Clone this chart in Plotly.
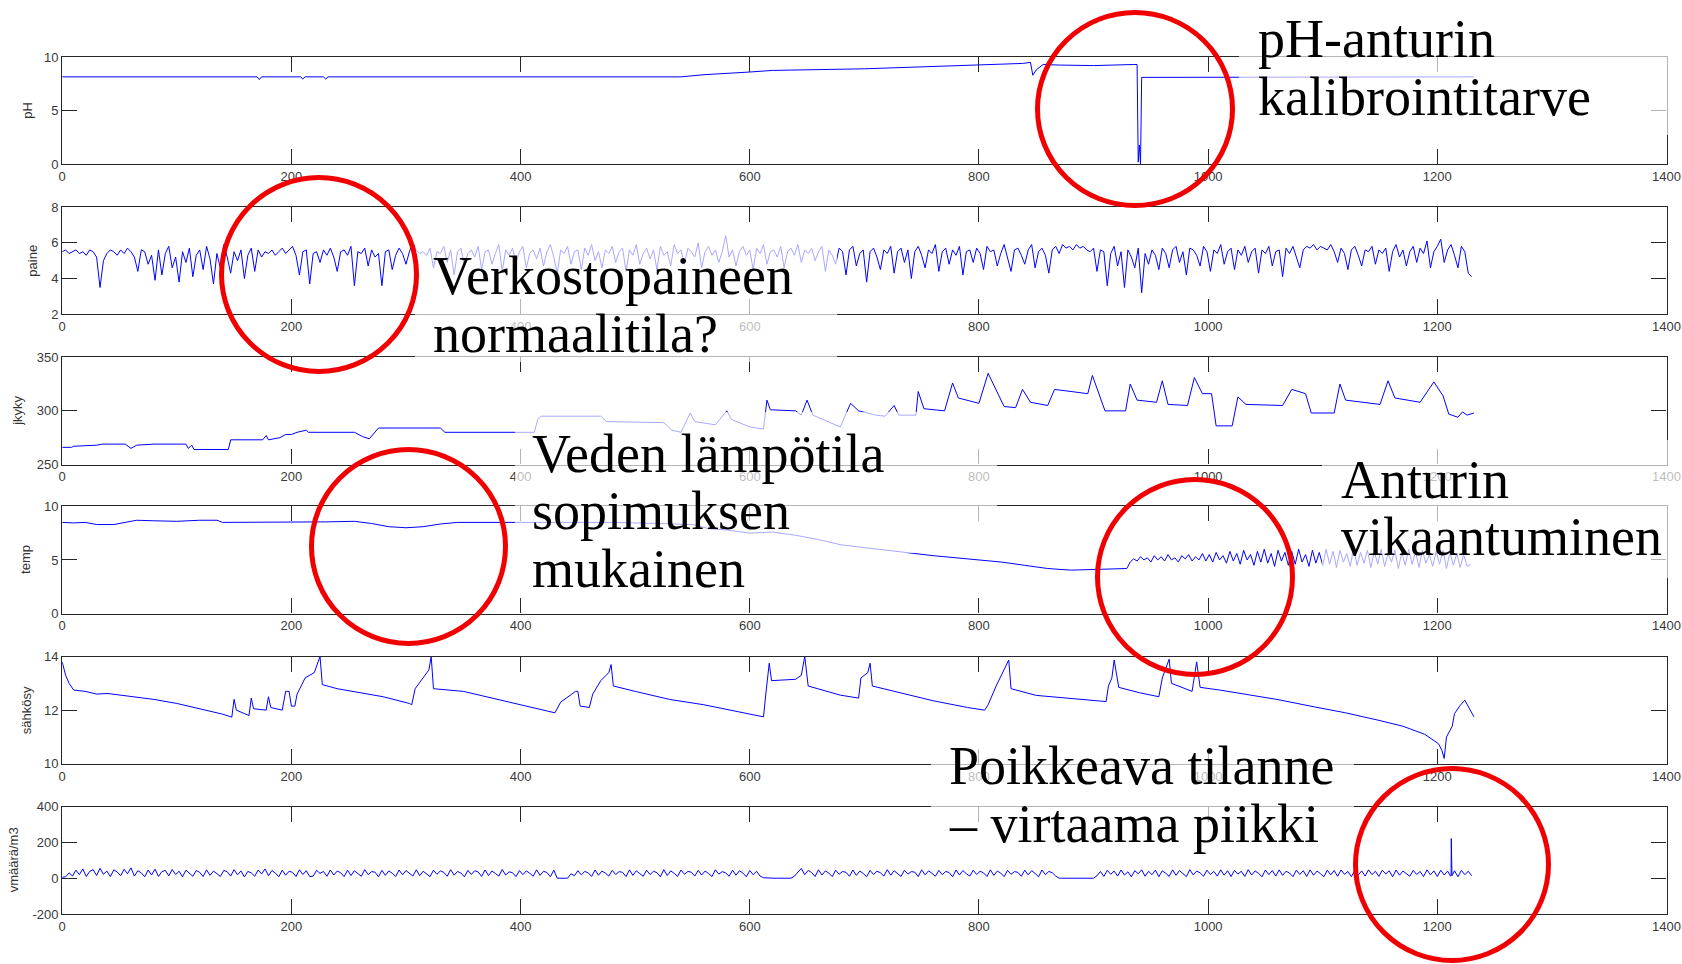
import numpy as np
import plotly.graph_objects as go

W, H = 1682, 964

# ---------------- data ----------------
X_TICKS = [0, 200, 400, 600, 800, 1000, 1200, 1400]

PH_X = [0, 170, 172, 174, 208, 210, 212, 228, 230, 232, 540, 560, 600, 620, 700, 780, 838, 845,
        847, 850, 856, 870, 900, 935, 938, 939, 940, 941, 942, 1232]
PH_Y = [8.15, 8.15, 7.9, 8.15, 8.15, 7.95, 8.15, 8.15, 7.95, 8.15, 8.15, 8.35, 8.6, 8.75, 8.9, 9.2, 9.4, 9.5,
        8.3, 8.8, 9.3, 9.25, 9.2, 9.3, 9.3, 0.2, 1.8, 0.0, 8.1, 8.15]

PAINE_STEP = 3
PAINE_Y = [
    5.5, 5.6, 5.4, 5.5, 5.6, 5.4, 5.5, 5.3, 5.6, 5.5, 5.2, 3.5, 5.0, 5.4, 5.6, 5.5, 5.3, 5.6, 5.4, 5.7,
    5.5, 5.2, 4.4, 5.6, 5.5, 4.8, 5.3, 3.9, 5.6, 4.2, 5.4, 5.8, 4.6, 5.2, 3.8, 5.5, 4.9, 5.7, 4.1, 5.3,
    5.6, 4.5, 5.8, 5.1, 3.7, 5.4, 4.6, 5.9, 5.2, 4.3, 5.5, 5.0, 5.6, 4.0, 5.3, 5.7, 4.4, 5.6, 5.2, 5.5,
    5.4, 5.6, 5.3, 5.5, 5.7, 5.4, 5.6, 5.8, 5.3, 4.2, 5.5, 5.6, 3.7, 5.4, 5.5, 4.9, 5.6, 5.3, 5.7, 5.2,
    4.4, 5.5, 5.6, 5.3, 5.8, 3.6, 5.5, 5.4, 5.7, 4.7, 5.6, 5.2, 5.4, 3.6, 5.5, 5.6, 4.5, 5.3, 5.7, 5.4,
    4.8, 5.5, 6.0, 5.6, 5.4, 5.5, 5.3, 5.7, 4.6, 5.5, 5.4, 5.8, 4.9, 5.6, 4.2, 5.5, 5.7, 4.7, 5.4, 5.6,
    5.2, 5.8, 4.5, 5.5, 5.6, 4.8, 5.4, 5.9, 4.4, 5.6, 5.3, 5.7, 4.9, 5.5, 5.8, 4.6, 5.4, 5.6, 5.1, 5.7,
    4.7, 5.5, 5.9, 5.2, 4.3, 5.6, 5.4, 5.8, 4.8, 5.5, 5.6, 4.5, 5.7, 5.3, 5.9, 5.0, 5.5, 4.6, 5.6, 5.4,
    5.8, 4.9, 5.5, 5.7, 4.4, 5.6, 5.3, 5.9, 4.8, 5.4, 5.7, 5.1, 5.6, 4.5, 5.8, 5.3, 5.5, 4.7, 5.9, 5.4,
    5.6, 4.8, 5.7, 5.5, 5.2, 6.0, 4.6, 5.5, 5.8, 5.3, 5.6, 4.9, 5.5, 6.4, 5.2, 5.6, 4.7, 5.5, 5.8, 5.3,
    5.6, 4.5, 5.7, 5.4, 5.9, 4.8, 5.5, 5.6, 5.2, 5.8, 4.6, 5.5, 5.7, 5.3, 5.9, 4.9, 5.6, 5.4, 5.7, 5.0,
    5.5, 5.8, 4.4, 5.6, 5.3, 4.8, 5.7, 5.5, 4.2, 5.6, 5.8, 4.7, 5.4, 5.6, 3.8, 5.5, 5.7, 5.2, 4.5, 5.6,
    5.4, 5.8, 4.3, 5.5, 5.7, 4.9, 5.6, 4.0, 5.5, 5.8, 5.3, 4.6, 5.6, 5.4, 5.9, 4.4, 5.5, 5.7, 4.8, 5.6,
    5.3, 5.8, 4.2, 5.5, 5.6, 4.9, 5.7, 5.4, 4.5, 5.8, 5.5, 5.6, 4.7, 5.4, 5.9, 5.2, 4.4, 5.6, 5.7, 5.3,
    4.8, 5.6, 5.9, 4.6, 5.5, 5.7, 5.3, 4.3, 5.6, 5.8, 5.4, 5.9, 5.7, 5.8, 5.6, 5.9, 5.7, 5.8, 5.6, 5.5,
    5.7, 4.4, 5.6, 5.5, 3.6, 5.4, 5.8, 4.7, 5.5, 3.5, 5.6, 5.2, 4.6, 5.7, 3.2, 5.4, 4.8, 5.6, 5.3, 4.5,
    5.7, 5.4, 4.6, 5.6, 5.8, 4.9, 5.5, 4.2, 5.7, 5.6, 5.3, 4.7, 5.8, 5.5, 4.4, 5.6, 5.4, 5.9, 4.8, 5.5,
    5.7, 4.5, 5.6, 5.3, 5.8, 4.9, 5.5, 5.7, 4.3, 5.6, 5.4, 5.8, 4.7, 5.5, 5.6, 4.1, 5.7, 5.4, 5.8, 5.2,
    4.6, 5.6, 5.8, 5.7, 5.9, 5.6, 5.8, 5.7, 5.6, 5.9, 5.5, 4.9, 5.7, 5.4, 4.5, 5.6, 5.8, 5.3, 4.7, 5.6,
    5.5, 5.8, 4.8, 5.6, 5.4, 5.7, 4.4, 5.5, 5.9, 5.2, 5.6, 4.7, 5.5, 5.8, 4.9, 5.7, 5.4, 6.1, 4.6, 5.5,
    5.8, 6.2, 4.9, 5.6, 5.9, 5.3, 4.6, 5.8, 5.5, 4.3, 4.1,
]

JKYKY_X = [0, 8, 10, 30, 35, 55, 60, 65, 80, 108, 110, 113, 115, 145, 147, 175, 178, 180, 190, 195,
           200, 205, 213, 215, 255, 262, 268, 272, 276, 330, 334, 400, 412, 415, 418, 470, 475, 525,
           532, 540, 548, 552, 570, 580, 584, 600, 612, 615, 618, 640, 645, 650, 655, 679, 688, 695,
           710, 718, 726, 730, 745, 747, 752, 770, 777, 782, 800, 808, 815, 822, 832, 838, 845, 860,
           866, 895, 899, 905, 910, 928, 932, 938, 955, 960, 965, 982, 988, 995, 1003, 1007, 1021,
           1026, 1033, 1065, 1073, 1085, 1090, 1110, 1115, 1120, 1150, 1157, 1163, 1185, 1197, 1205,
           1210, 1218, 1222, 1226, 1232]
JKYKY_Y = [266, 266, 267, 268, 269, 269, 265, 268, 269, 269, 265, 268, 264, 264, 273, 273, 277, 273, 275, 278,
           278, 280, 282, 280, 280, 276, 274, 279, 284, 284, 280, 280, 280, 292, 295, 295, 290, 289,
           282, 280, 298, 290, 287, 300, 292, 285, 283, 310, 301, 300, 296, 310, 296, 285, 307, 300,
           296, 295, 305, 296, 296, 318, 302, 300, 326, 312, 307, 335, 320, 304, 303, 320, 308, 305,
           320, 316, 333, 315, 300, 300, 325, 310, 308, 328, 306, 305, 331, 316, 316, 286, 286,
           313, 306, 305, 320, 316, 298, 298, 325, 310, 306, 328, 312, 308, 327, 314,
           297, 294, 299, 296, 298]

TEMP_HEAD_X = [0, 10, 20, 30, 45, 55, 65, 80, 100, 120, 135, 140, 160, 200, 230, 255, 270, 285, 300,
               315, 330, 345, 400, 440, 480, 520, 550, 565, 580, 600, 620, 640, 660, 680, 700, 720,
               740, 760, 780, 800, 820, 840, 860, 880, 900, 915, 929]
TEMP_HEAD_Y = [8.5, 8.45, 8.5, 8.3, 8.3, 8.5, 8.7, 8.65, 8.6, 8.7, 8.7, 8.5, 8.5, 8.5, 8.55, 8.6, 8.4, 8.1, 8.0,
               8.1, 8.35, 8.5, 8.5, 8.45, 8.5, 8.4, 8.3, 7.9, 7.8, 7.5, 7.6, 7.3, 6.9, 6.4, 6.15, 5.85,
               5.6, 5.4, 5.2, 5.0, 4.8, 4.5, 4.2, 4.05, 4.1, 4.2, 4.2]
TEMP_TAIL_START = 932
TEMP_TAIL_STEP = 3
TEMP_TAIL_Y = [
    4.8, 5.1, 4.9, 5.3, 5.0, 5.2, 4.8, 5.4, 5.0, 5.3, 4.9, 5.5, 5.0, 5.2, 4.8, 5.4, 5.1, 5.5, 4.9, 5.3, 5.0, 5.6, 4.9,
    5.5, 4.8, 5.7, 5.0, 5.4, 4.7, 5.8, 4.9, 5.6, 4.6, 5.9, 5.0, 5.5, 4.5, 5.8, 4.8, 6.0, 4.7, 5.6, 4.4, 5.9, 4.9,
    5.7, 4.5, 5.8, 4.6, 6.0, 4.8, 5.5, 4.4, 5.9, 4.7, 5.7,
    4.5, 6.0, 4.6, 5.8, 4.3, 5.9, 4.8, 5.6, 4.4, 6.1, 4.5, 5.7, 4.7, 5.9, 4.3, 5.8, 4.6, 6.0, 4.4, 5.6, 4.8, 5.9,
    4.2, 5.7, 4.5, 6.0, 4.6, 5.8, 4.3, 5.9, 4.7, 5.5, 4.4, 5.8, 4.6, 5.9, 4.2, 5.7, 4.5, 5.6, 4.3, 5.5, 4.4, 4.6,
]

SAHKO_X = [0, 3, 6, 10, 20, 30, 40, 60, 80, 100, 120, 140, 148, 150, 152, 163, 165, 167, 178, 180, 182, 192,
           195, 198, 200, 203, 205, 212, 220, 225, 227, 240, 260, 280, 303, 305, 308, 315, 320, 322, 324,
           350, 380, 410, 430, 435, 440, 448, 450, 452, 460, 463, 470, 477, 479, 481, 500, 530, 560, 590,
           612, 614, 617, 619, 640, 645, 648, 651, 679, 695, 697, 703, 705, 707, 730, 760, 790, 805, 808,
           815, 826, 828, 850, 880, 911, 913, 916, 918, 922, 940, 957, 960, 966, 968, 980, 986, 990, 993,
           1010, 1036, 1060, 1093, 1120, 1149, 1170, 1189, 1201, 1204, 1206, 1208, 1213, 1215, 1220,
           1224, 1226, 1229, 1232]
SAHKO_Y = [13.8, 13.3, 13.0, 12.75, 12.7, 12.6, 12.62, 12.5, 12.4, 12.25, 12.05, 11.85, 11.74, 12.4, 12.0, 11.8,
           12.45, 12.05, 12.0, 12.5, 12.1, 12.0, 12.7, 12.7, 12.15, 12.15, 12.6, 13.2, 13.4, 14.0, 12.95, 12.8,
           12.65, 12.5, 12.25, 12.2, 12.8, 13.2, 13.5, 14.0, 12.8, 12.7, 12.4, 12.1, 11.9, 12.3, 12.45, 12.7,
           12.7, 12.15, 12.1, 12.6, 13.1, 13.4, 13.7, 12.9, 12.7, 12.4, 12.2, 11.95, 11.75, 12.6, 13.75,
           13.1, 13.15, 13.3, 14.0, 12.9, 12.56, 12.45, 13.2, 13.4, 13.75, 12.9, 12.65, 12.35, 12.1, 12.0,
           12.2, 12.9, 13.87, 12.8, 12.55, 12.45, 12.32, 12.9, 13.2, 13.87, 12.85, 12.65, 12.5, 13.2, 13.9,
           13.0, 12.8, 12.7, 13.8, 12.85, 12.75, 12.56, 12.4, 12.12, 11.9, 11.62, 11.4, 11.1, 10.75, 10.5,
           10.2, 11.0, 11.4, 11.87, 12.18, 12.37, 12.2, 12.0, 11.75]

VM_STEP = 3
VM_Y = [
    5, 8, 30, 12, 45, 20, 52, 10, 38, 48, 15, 55, 22, 40, 9, 47, 35, 14, 50, 25,
    58, 12, 42, 30, 8, 46, 18, 51, 10, 37, 44, 13, 49, 21, 39, 8, 45, 28, 11, 43,
    33, 9, 47, 16, 40, 26, 10, 44, 36, 12, 48, 19, 41, 7, 38, 30, 11, 46, 24, 52,
    14, 43, 29, 8, 45, 17, 39, 33, 10, 47, 21, 42, 9, 12, 44, 27, 38, 11, 46, 18,
    40, 31, 9, 45, 15, 42, 25, 11, 48, 20, 37, 34, 8, 44, 16, 41, 28, 10, 46, 19,
    43, 30, 12, 47, 14, 39, 26, 9, 45, 22, 41, 33, 11, 48, 17, 38, 29, 8, 44, 21,
    42, 35, 10, 46, 15, 40, 27, 12, 49, 18, 36, 31, 9, 43, 20, 41, 28, 11, 47, 16,
    39, 32, 8, 45, 0, 0, 0, 0, 25, 14, 42, 19, 38, 30, 10, 46, 17, 40, 29, 12,
    44, 21, 37, 33, 9, 47, 16, 42, 26, 11, 45, 20, 39, 31, 8, 48, 15, 41, 28, 10,
    46, 22, 38, 34, 12, 44, 18, 40, 27, 9, 47, 23, 37, 30, 11, 45, 17, 42, 29, 8,
    43, 20, 39, 12, 3, 1, 0, 0, 0, 0, 0, 0, 0, 12, 35, 55, 20, 44, 32, 10,
    47, 18, 41, 29, 9, 45, 22, 38, 33, 11, 46, 16, 40, 27, 8, 44, 21, 39, 31, 12,
    48, 17, 42, 26, 10, 45, 23, 37, 34, 9, 47, 19, 41, 28, 11, 44, 20, 38, 32, 8,
    46, 18, 43, 25, 12, 45, 21, 39, 30, 10, 47, 16, 40, 29, 9, 44, 22, 37, 33, 11,
    45, 19, 42, 27, 8, 46, 20, 38, 31, 12, 0, 0, 0, 0, 0, 0, 0, 0, 0, 0,
    0, 14, 38, 10, 44, 22, 40, 12, 46, 18, 36, 8, 42, 25, 47, 11, 39, 20, 45, 9,
    41, 28, 10, 47, 16, 43, 24, 9, 48, 19, 40, 30, 11, 45, 21, 38, 12, 47, 17, 42,
    9, 44, 23, 39, 10, 48, 18, 41, 27, 8, 46, 20, 43, 12, 47, 16, 39, 29, 9, 45,
    21, 42, 10, 47, 17, 40, 26, 8, 45, 19, 43, 11, 46, 22, 38, 9, 44, 18, 41, 12,
    47, 20, 39, 10, 45, 24, 42, 8, 46, 17, 40, 28, 11, 44, 21, 38, 9, 47, 19, 41,
    10, 45, 18, 40, 15, 42, 8, 44, 20, 39, 14,
]
VM_SPIKE_X = [1211.5, 1212.2, 1212.8]
VM_SPIKE_Y = [12, 222, 14]

Y_TITLES = ["pH", "paine", "jkyky", "temp", "sähkösy", "vmäärä/m3"]
Y_RANGES = [[0, 10], [2, 8], [250, 350], [0, 10], [10, 14], [-200, 400]]
Y_TICKS = [[0, 5, 10], [2, 4, 6, 8], [250, 300, 350], [0, 5, 10], [10, 12, 14], [-200, 0, 200, 400]]

NOTE_LINES = ["pH-anturin", "kalibrointitarve",
              "Verkostopaineen", "normaalitila?",
              "Veden lämpötila", "sopimuksen", "mukainen",
              "Anturin", "vikaantuminen",
              "Poikkeava tilanne", "– virtaama piikki"]

# ---------------- layout geometry (page pixels) ----------------
PANEL_TOP = [57, 207, 357.2, 506.3, 656.5, 806.7]
PANEL_BOT = [164.3, 314.3, 464.5, 613.6, 763.8, 914.0]
X_LEFT, X_RIGHT = 62.2, 1666.5
Y_TITLE_X = [28, 33, 18, 26, 26, 13]

NOTE_POS = [(1259, 57), (1259, 115),
            (434, 294), (434, 352),
            (533, 472), (533, 529), (533, 587),
            (1342, 498), (1342, 555),
            (950, 784), (950, 842)]
BOXES = [(1239, 8, 1682, 135), (415, 226, 837, 362), (515, 412, 997, 553),
         (1322, 440, 1682, 578), (931, 742, 1354, 855)]
CIRCLES = [(1035, 10, 1235, 208), (219, 175, 419, 374), (309, 447, 508, 646),
           (1095, 477, 1295, 677), (1353, 766, 1551, 963)]


def px(x):
    return x / W


def py(y):
    return 1 - y / H


# ---------------- build series ----------------
paine_x = np.arange(len(PAINE_Y)) * PAINE_STEP
temp_x = list(TEMP_HEAD_X) + list(TEMP_TAIL_START + np.arange(len(TEMP_TAIL_Y)) * TEMP_TAIL_STEP)
temp_y = list(TEMP_HEAD_Y) + list(TEMP_TAIL_Y)
vm_pts = sorted(list(zip(np.arange(len(VM_Y)) * VM_STEP, VM_Y)) + list(zip(VM_SPIKE_X, VM_SPIKE_Y)))
vm_x = [p[0] for p in vm_pts]
vm_y = [p[1] for p in vm_pts]

series = [(PH_X, PH_Y), (paine_x, PAINE_Y), (JKYKY_X, JKYKY_Y), (temp_x, temp_y),
          (SAHKO_X, SAHKO_Y), (vm_x, vm_y)]

fig = go.Figure()
AXIS_COLOR = "#262626"
SANS = "Liberation Sans, Arial, sans-serif"
TICK_FONT = dict(family=SANS, size=13, color="#3a3a3a")

layout = dict(
    width=W, height=H, margin=dict(l=0, r=0, t=0, b=0, pad=0, autoexpand=False),
    paper_bgcolor="white", plot_bgcolor="white", showlegend=False,
)

annotations = []
for i, (sx, sy) in enumerate(series):
    n = i + 1
    xa = "x" if n == 1 else f"x{n}"
    ya = "y" if n == 1 else f"y{n}"
    fig.add_trace(go.Scatter(x=sx, y=sy, mode="lines", line=dict(color="#0000ff", width=1),
                             xaxis=xa, yaxis=ya, hoverinfo="skip"))
    common = dict(showline=True, linecolor=AXIS_COLOR, linewidth=1.3, mirror="ticks",
                  ticks="inside", ticklen=15, tickwidth=1.3, tickcolor=AXIS_COLOR,
                  showgrid=False, zeroline=False, tickfont=TICK_FONT, fixedrange=True,
                  automargin=False, ticklabeloverflow="allow")
    layout[f"xaxis{'' if n == 1 else n}"] = dict(
        domain=[px(X_LEFT), px(X_RIGHT)], range=[0, 1400], anchor=ya,
        tickmode="array", tickvals=X_TICKS, ticktext=[str(t) for t in X_TICKS], **common)
    layout[f"yaxis{'' if n == 1 else n}"] = dict(
        domain=[py(PANEL_BOT[i]), py(PANEL_TOP[i])], range=Y_RANGES[i], anchor=xa,
        tickmode="array", tickvals=Y_TICKS[i], ticktext=[str(t) for t in Y_TICKS[i]], **common)
    annotations.append(dict(text=Y_TITLES[i], xref="paper", yref="paper", x=px(Y_TITLE_X[i]),
                            y=py((PANEL_TOP[i] + PANEL_BOT[i]) / 2), textangle=-90,
                            xanchor="center", yanchor="middle", showarrow=False,
                            font=dict(family=SANS, size=13, color="#333333")))

shapes = []
for (x0, y0, x1, y1) in BOXES:
    shapes.append(dict(type="rect", xref="paper", yref="paper", x0=px(x0), x1=px(x1),
                       y0=py(y1), y1=py(y0), fillcolor="rgba(255,255,255,0.66)",
                       line=dict(width=0), layer="above"))
for (x0, y0, x1, y1) in CIRCLES:
    shapes.append(dict(type="circle", xref="paper", yref="paper", x0=px(x0 + 2.5), x1=px(x1 - 2.5),
                       y0=py(y1 - 2.5), y1=py(y0 + 2.5), line=dict(color="#f00000", width=5),
                       fillcolor="rgba(0,0,0,0)", layer="above"))
layout["shapes"] = shapes

FS = 54
for text, (lx, base) in zip(NOTE_LINES, NOTE_POS):
    center = base - 0.3375 * FS
    annotations.append(dict(text=text, xref="paper", yref="paper", x=px(lx - 3), y=py(center),
                            xanchor="left", yanchor="middle", showarrow=False,
                            font=dict(family="Liberation Serif, Times New Roman, serif", size=FS,
                                      color="black")))
layout["annotations"] = annotations

fig.update_layout(**layout)
fig.write_html("out.html", config={"displayModeBar": False},
               post_script="document.body.style.margin='0';document.body.style.overflow='hidden';")
